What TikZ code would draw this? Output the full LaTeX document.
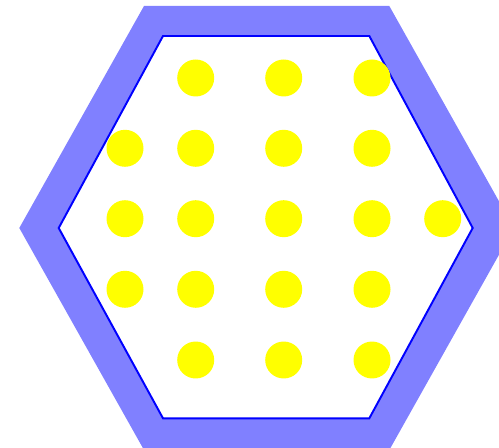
\documentclass[tikz,border=0pt]{standalone}
\usepackage{tikz}
\usetikzlibrary{positioning}
\definecolor{rim}{HTML}{8080FF}
\definecolor{rodc}{HTML}{FFFF00}
\definecolor{edge}{HTML}{0000FF}
\tikzset{
  dot/.style={circle, fill=rodc, draw=none, inner sep=0pt, minimum size=0.74cm},
  wall/.style={fill=rim, draw=none},
  cell/.style={fill=white, draw=edge, line width=1.1pt, line join=miter},
}
\begin{document}
\begin{tikzpicture}[x=0.02cm,y=-0.02cm]
\clip (0,0) rectangle (499,448);
\useasboundingbox (0,0) rectangle (499,448);
% outer wall and inner cell
\draw[wall] (19.3,228) -- (144,6) -- (389.3,6) -- (514,228) -- (389.3,450) -- (144,450) -- cycle;
\draw[cell] (58.7,228) -- (163,36) -- (369.3,36) -- (472.7,228) -- (369.3,418.3) -- (163,418.3) -- cycle;
% rods
\foreach \x/\y [count=\i] in {195.7/78,283.7/78,372/78,
    125/148.3,195.7/148.3,283.7/148.3,372/148.3,
    125/218.7,195.7/218.7,283.7/218.7,372/218.7,442.7/218.7,
    125/289.3,195.7/289.3,283.7/289.3,372/289.3,
    195.7/360,283.7/360,372/360}
  \node[dot] (rod\i) at (\x,\y) {};
\end{tikzpicture}
\end{document}
